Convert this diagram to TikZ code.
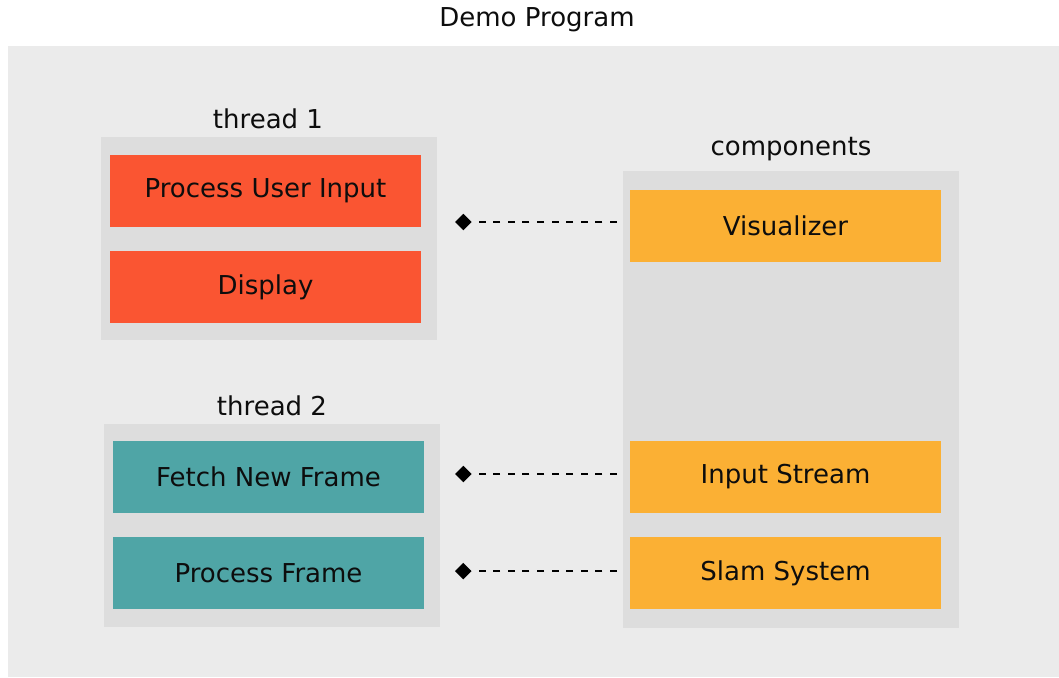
\documentclass[tikz,border=0pt]{standalone}
\usepackage{fontspec}
\setmainfont{DejaVu Sans}
\usetikzlibrary{arrows.meta}

\definecolor{canvasgrey}{HTML}{EBEBEB}
\definecolor{groupgrey}{HTML}{DDDDDD}
\definecolor{threadred}{HTML}{FA5532}
\definecolor{threadteal}{HTML}{4FA5A6}
\definecolor{compamber}{HTML}{FBB034}

\tikzset{
  txt/.style={font=\fontsize{26}{30}\selectfont, text=black!95},
  group/.style={fill=groupgrey, inner sep=0pt, minimum width=336pt},
  task/.style={txt, inner sep=0pt, minimum width=311pt, minimum height=72pt},
  link/.style={line width=2pt, dash pattern=on 7pt off 7.6pt, -{Diamond[length=16.5pt,width=16.5pt]}},
}

\begin{document}
\begin{tikzpicture}[x=1pt, y=-1pt]
    \useasboundingbox (0,0) rectangle (1059,677);
    \fill[canvasgrey] (8,46) rectangle (1059,677);
    \node[txt] (title) at (537,19.5) {Demo Program};

    % thread 1
    \node[group, minimum height=203pt] (thr1) at (269,238.5) {};
    \node[txt] (thr1lbl) at (268,118.5) {thread 1};
    \node[task, fill=threadred] (input) at (265.5,191) {Process User Input};
    \node[task, fill=threadred] (display) at (265.5,287) {Display};

    % thread 2
    \node[group, minimum height=203pt] (thr2) at (272,525.5) {};
    \node[txt] (thr2lbl) at (272,405.5) {thread 2};
    \node[task, fill=threadteal] (fetch) at (268.5,477) {Fetch New Frame};
    \node[task, fill=threadteal] (procframe) at (268.5,573) {Process Frame};

    % components
    \node[group, minimum height=457pt] (comp) at (791,399.5) {};
    \node[txt] (complbl) at (791,149.5) {components};
    \node[task, fill=compamber] (vis) at (785.5,226) {Visualizer};
    \node[task, fill=compamber] (stream) at (785.5,477) {Input Stream};
    \node[task, fill=compamber] (slam) at (785.5,573) {Slam System};

    % links between threads and components
    \coordinate (visend) at (617,222);
    \coordinate (visdot) at (455,222);
    \coordinate (streamend) at (617,474);
    \coordinate (streamdot) at (455,474);
    \coordinate (slamend) at (617,571);
    \coordinate (slamdot) at (455,571);
    \draw[link] (visend) -- (visdot);
    \draw[link] (streamend) -- (streamdot);
    \draw[link] (slamend) -- (slamdot);
\end{tikzpicture}
\end{document}
